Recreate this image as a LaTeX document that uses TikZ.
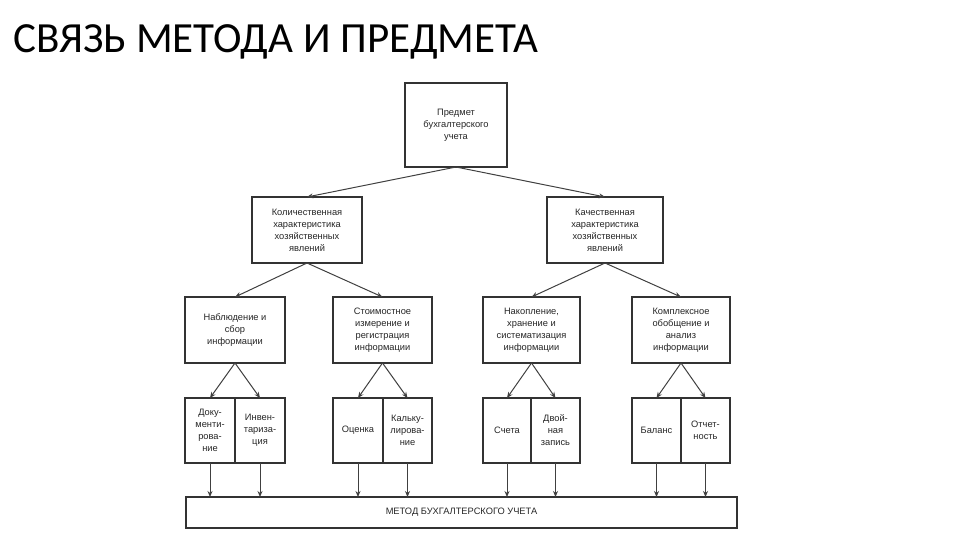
\documentclass[tikz,border=0pt]{standalone}
\usepackage{fontspec}
\setmainfont{Liberation Sans}
\newfontfamily\titlefont{Carlito}
\usetikzlibrary{arrows.meta}
\begin{document}
\begin{tikzpicture}[x=1pt,y=-1pt,
 bx/.style={draw=black!80,line width=1.2pt,fill=white},
 lbl/.style={align=center,font=\fontsize{9.3}{12}\selectfont,text=black!85,inner sep=0pt},
 ar/.style={draw=black!75,line width=1pt,-{Stealth[length=6pt,width=5pt]}}]
\useasboundingbox (0,0) rectangle (960,540);
\node[anchor=west,font=\titlefont\fontsize{43}{48}\selectfont,inner sep=0pt] (title) at (13,42) {СВЯЗЬ МЕТОДА И ПРЕДМЕТА};
% boxes
\newcommand\mybox[6]{\draw[bx] (#2,#3) rectangle (#4,#5); \node[lbl] (#1) at ({(#2+#4)/2},{(#3+#5)/2}) {#6};
 \coordinate (#1t) at ({(#2+#4)/2},#3); \coordinate (#1b) at ({(#2+#4)/2},#5);}
\mybox{top}{405}{83}{507}{167}{Предмет\\бухгалтерского\\учета}
\mybox{qn}{252}{197}{362}{263}{Количественная\\характеристика\\хозяйственных\\явлений}
\mybox{ql}{547}{197}{663}{263}{Качественная\\характеристика\\хозяйственных\\явлений}
\mybox{a}{185}{297}{285}{363}{Наблюдение и\\сбор\\информации}
\mybox{b}{333}{297}{432}{363}{Стоимостное\\измерение и\\регистрация\\информации}
\mybox{c}{483}{297}{580}{363}{Накопление,\\хранение и\\систематизация\\информации}
\mybox{d}{632}{297}{730}{363}{Комплексное\\обобщение и\\анализ\\информации}
\mybox{a1}{185}{398}{235}{463}{Доку-\\менти-\\рова-\\ние}
\mybox{a2}{235}{398}{285}{463}{Инвен-\\тариза-\\ция}
\mybox{b1}{333}{398}{383}{463}{Оценка}
\mybox{b2}{383}{398}{432}{463}{Кальку-\\лирова-\\ние}
\mybox{c1}{483}{398}{531}{463}{Счета}
\mybox{c2}{531}{398}{580}{463}{Двой-\\ная\\запись}
\mybox{d1}{632}{398}{681}{463}{Баланс}
\mybox{d2}{681}{398}{730}{463}{Отчет-\\ность}
\draw[bx] (186,497) rectangle (737,528);
\node[lbl] (m) at (461.5,512.5) {МЕТОД БУХГАЛТЕРСКОГО УЧЕТА};
% connectors
\draw[ar] (topb) -- (qnt);
\draw[ar] (topb) -- (qlt);
\draw[ar] (qnb) -- (at);
\draw[ar] (qnb) -- (bt);
\draw[ar] (qlb) -- (ct);
\draw[ar] (qlb) -- (dt);
\foreach \p/\k in {a/a1,a/a2,b/b1,b/b2,c/c1,c/c2,d/d1,d/d2}{
 \draw[ar] (\p b) -- (\k t);
 \draw[ar] (\k b) -- (\k b |- 0,497);}
\end{tikzpicture}
\end{document}
